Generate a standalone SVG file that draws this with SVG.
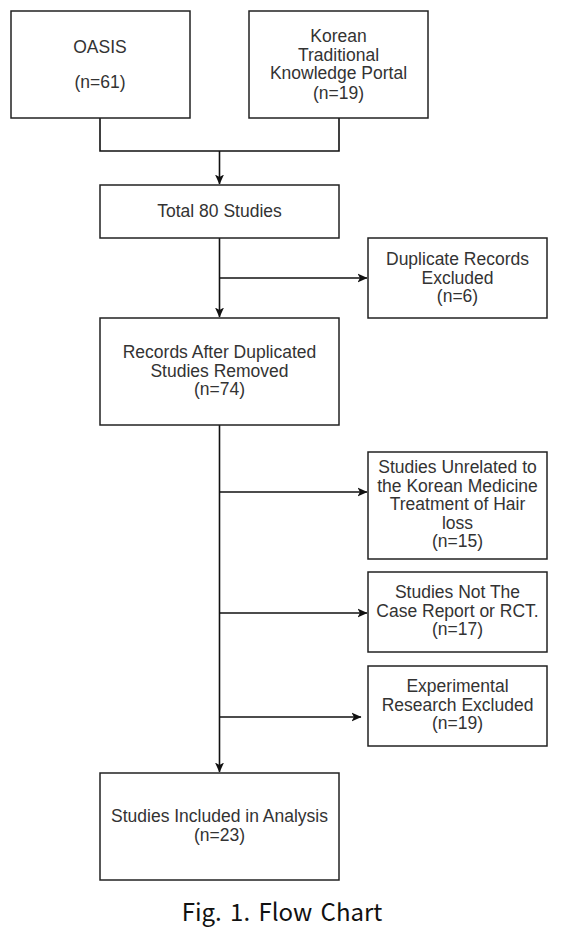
<svg xmlns="http://www.w3.org/2000/svg" width="567" height="930" viewBox="0 0 567 930">
<style>
.box{fill:#fff;stroke:#222;stroke-width:1.5}
.t{font-family:"Liberation Sans",Arial,sans-serif;font-size:17.5px;fill:#333;text-anchor:middle}
.ln{fill:none;stroke:#111;stroke-width:1.6}
.cap{font-family:"Noto Sans CJK KR","Noto Sans",sans-serif;font-size:24px;fill:#111;text-anchor:middle;word-spacing:3px}
</style>
<defs>
<marker id="ah" viewBox="0 0 10 10" refX="9.5" refY="5" markerWidth="10" markerHeight="10" markerUnits="userSpaceOnUse" orient="auto">
<path d="M0,0.5 L10,5 L0,9.5 L2.5,5 Z" fill="#111"/>
</marker>
</defs>
<g id="connectors">
<path class="ln" d="M100,118 V151 H339 V118"/>
<path class="ln" d="M219.5,151 V184" marker-end="url(#ah)"/>
<path class="ln" d="M219.5,238 V317" marker-end="url(#ah)"/>
<path class="ln" d="M219.5,278 H367" marker-end="url(#ah)"/>
<path class="ln" d="M219.5,425 V772" marker-end="url(#ah)"/>
<path class="ln" d="M219.5,492 H367" marker-end="url(#ah)"/>
<path class="ln" d="M219.5,613 H367" marker-end="url(#ah)"/>
<path class="ln" d="M219.5,717 H361" marker-end="url(#ah)"/>
</g>
<g id="oasis">
<rect class="box" x="11" y="11" width="179" height="107"/>
<text class="t" x="100" y="53">OASIS</text>
<text class="t" x="100" y="88">(n=61)</text>
</g>
<g id="korean">
<rect class="box" x="249" y="11" width="179" height="107"/>
<text class="t" x="338.5" y="42">Korean</text>
<text class="t" x="338.5" y="60.5">Traditional</text>
<text class="t" x="338.5" y="79">Knowledge Portal</text>
<text class="t" x="338.5" y="98.5">(n=19)</text>
</g>
<g id="total">
<rect class="box" x="100" y="185" width="239" height="53"/>
<text class="t" x="219.5" y="217">Total 80 Studies</text>
</g>
<g id="duplicate">
<rect class="box" x="368" y="238" width="179" height="80"/>
<text class="t" x="457.5" y="265">Duplicate Records</text>
<text class="t" x="457.5" y="283.5">Excluded</text>
<text class="t" x="457.5" y="302">(n=6)</text>
</g>
<g id="records">
<rect class="box" x="100" y="318" width="239" height="107"/>
<text class="t" x="219.5" y="358">Records After Duplicated</text>
<text class="t" x="219.5" y="376.5">Studies Removed</text>
<text class="t" x="219.5" y="395">(n=74)</text>
</g>
<g id="unrelated">
<rect class="box" x="368" y="452" width="179" height="107"/>
<text class="t" x="457.5" y="473">Studies Unrelated to</text>
<text class="t" x="457.5" y="491.5">the Korean Medicine</text>
<text class="t" x="457.5" y="510">Treatment of Hair</text>
<text class="t" x="457.5" y="528.5">loss</text>
<text class="t" x="457.5" y="547">(n=15)</text>
</g>
<g id="notcase">
<rect class="box" x="368" y="572" width="179" height="80"/>
<text class="t" x="457.5" y="598">Studies Not The</text>
<text class="t" x="457.5" y="616.5">Case Report or RCT.</text>
<text class="t" x="457.5" y="635">(n=17)</text>
</g>
<g id="experimental">
<rect class="box" x="368" y="666" width="179" height="80"/>
<text class="t" x="457.5" y="692">Experimental</text>
<text class="t" x="457.5" y="710.5">Research Excluded</text>
<text class="t" x="457.5" y="729">(n=19)</text>
</g>
<g id="included">
<rect class="box" x="100" y="773" width="239" height="107"/>
<text class="t" x="219.5" y="822">Studies Included in Analysis</text>
<text class="t" x="219.5" y="840.5">(n=23)</text>
</g>
<text class="cap" x="282" y="921">Fig. 1. Flow Chart</text>
</svg>
